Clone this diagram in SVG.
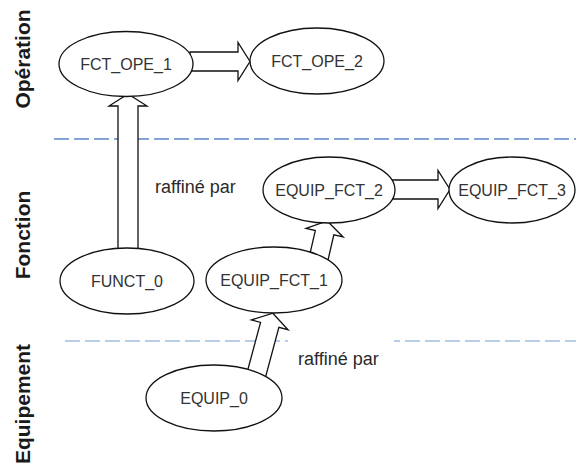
<svg xmlns="http://www.w3.org/2000/svg" width="576" height="466" viewBox="0 0 576 466">
  <style>
    .lane { font-family: "Liberation Sans", Arial, sans-serif; font-weight: bold; font-size: 21px; fill: #1a1a1a; text-anchor: middle; }
    .sep { fill: none; stroke-width: 1.6; stroke-dasharray: 15 5; }
    .node ellipse { fill: #ffffff; stroke: #111111; stroke-width: 1.3; }
    .node text { font-family: "Liberation Sans", Arial, sans-serif; font-size: 16px; fill: #333333; text-anchor: middle; }
    .lbl { font-family: "Liberation Sans", Arial, sans-serif; font-size: 18px; fill: #2a2a2a; }
    .arrow { fill: #ffffff; stroke: #111111; stroke-width: 1.3; stroke-linejoin: miter; }
  </style>
  <defs>
    <!-- block arrow pointing up, base at origin -->
    <path id="arr48" d="M -9.5 0 L -9.5 -48 L -19 -48 L 0 -60 L 19 -48 L 9.5 -48 L 9.5 0 Z"/>
  </defs>

  <rect width="576" height="466" fill="#ffffff"/>

  <!-- lane titles -->
  <text class="lane" transform="translate(30 59) rotate(-90)">Opération</text>
  <text class="lane" transform="translate(30 235) rotate(-90)">Fonction</text>
  <text class="lane" transform="translate(30 404) rotate(-90)">Equipement</text>

  <!-- lane separators -->
  <line class="sep" x1="54" y1="139" x2="576" y2="139" stroke="#5b86c8"/>
  <line class="sep" x1="65" y1="341" x2="576" y2="341" stroke="#a3bde2"/>

  <!-- relation labels -->
  <text class="lbl" x="155" y="193">raffiné par</text>
  <rect x="288" y="330" width="106" height="40" fill="#ffffff"/>
  <text class="lbl" x="298" y="365">raffiné par</text>

  <!-- connectors -->
  <g id="connectors">
    <path class="arrow" d="M 190 52 L 238 52 L 238 42.5 L 250 61.5 L 238 80.5 L 238 71 L 190 71 Z"/>
    <path class="arrow" d="M 118 255 L 118 106 L 109 106 L 128 94 L 147 106 L 138 106 L 138 255 Z"/>
    <path class="arrow" d="M 392 180 L 438 180 L 438 170.5 L 450 189.5 L 438 208.5 L 438 199 L 392 199 Z"/>
    <path class="arrow" transform="translate(318.5 259) rotate(13)" d="M -9.5 0 L -9.5 -27 L -19 -27 L 0 -39 L 19 -27 L 9.5 -27 L 9.5 0 Z"/>
    <path class="arrow" transform="translate(256 376) rotate(15)" d="M -9.5 0 L -9.5 -53 L -19 -53 L 0 -65 L 19 -53 L 9.5 -53 L 9.5 0 Z"/>
  </g>

  <!-- nodes -->
  <g id="FCT_OPE_1" class="node">
    <ellipse cx="126" cy="64" rx="67" ry="32.5"/>
    <text x="126" y="69.5">FCT_OPE_1</text>
  </g>
  <g id="FCT_OPE_2" class="node">
    <ellipse cx="317" cy="61" rx="67" ry="33"/>
    <text x="317" y="66.5">FCT_OPE_2</text>
  </g>
  <g id="FUNCT_0" class="node">
    <ellipse cx="127" cy="281" rx="67" ry="33"/>
    <text x="127" y="286.5">FUNCT_0</text>
  </g>
  <g id="EQUIP_FCT_1" class="node">
    <ellipse cx="274" cy="280" rx="68" ry="33"/>
    <text x="274" y="285.5">EQUIP_FCT_1</text>
  </g>
  <g id="EQUIP_FCT_2" class="node">
    <ellipse cx="329" cy="190" rx="66" ry="33"/>
    <text x="329" y="195.5">EQUIP_FCT_2</text>
  </g>
  <g id="EQUIP_FCT_3" class="node">
    <ellipse cx="512" cy="190" rx="63" ry="33"/>
    <text x="512" y="195.5">EQUIP_FCT_3</text>
  </g>
  <g id="EQUIP_0" class="node">
    <ellipse cx="214" cy="398" rx="68" ry="33"/>
    <text x="214" y="403.5">EQUIP_0</text>
  </g>
</svg>
